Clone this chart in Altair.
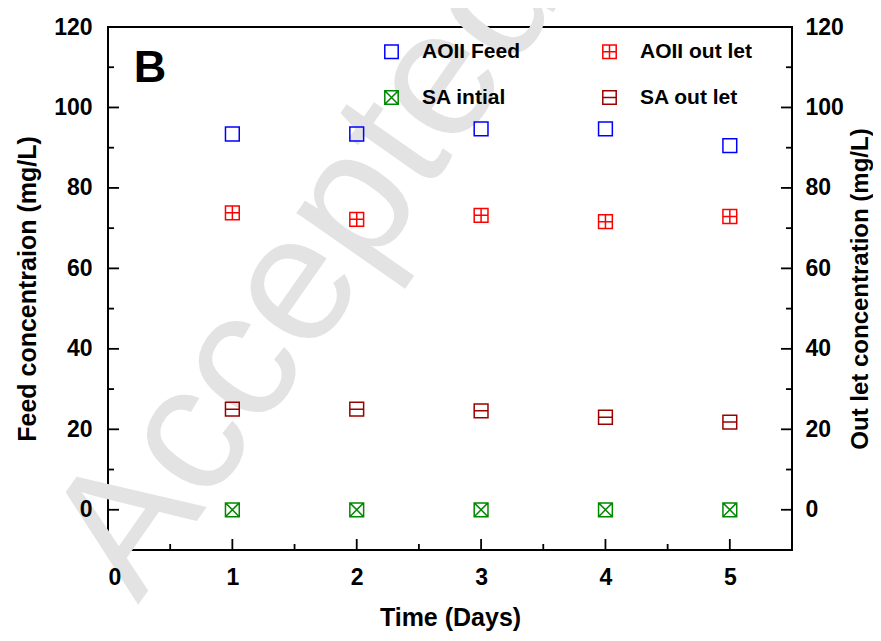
import altair as alt
import pandas as pd

# ---- data ----
days = [1, 2, 3, 4, 5]
aoii_feed = [93.4, 93.4, 94.7, 94.7, 90.5]
aoii_outlet = [73.8, 72.2, 73.2, 71.6, 72.9]
sa_initial = [0, 0, 0, 0, 0]
sa_outlet = [25.0, 25.0, 24.6, 23.0, 21.8]

# legend order (filled column by column: AOII Feed / SA intial, then AOII out let / SA out let)
series_names = ["AOII Feed", "SA intial", "AOII out let", "SA out let"]
series_colors = ["#0000ff", "#008800", "#ff0000", "#990000"]

x_tick_labels = [0, 1, 2, 3, 4, 5]
x_major = [1, 2, 3, 4, 5]
x_minor = [0.5, 1.5, 2.5, 3.5, 4.5]
y_tick_labels = [0, 20, 40, 60, 80, 100, 120]
y_major = [0, 20, 40, 60, 80, 100]
y_minor = [10, 30, 50, 70, 90, 110]

panel_label = ["B"]
watermark = ["Accepted Manuscript"]

# ---- build tables ----
rows = []
for name, vals in [("AOII Feed", aoii_feed), ("AOII out let", aoii_outlet),
                   ("SA intial", sa_initial), ("SA out let", sa_outlet)]:
    for d, v in zip(days, vals):
        rows.append({"day": d, "value": v, "series": name})
df = pd.DataFrame(rows)

sq = "M-1,-1H1V1H-1Z"
shape_of = {
    "AOII Feed": sq,
    "AOII out let": sq + "M0,-1V1M-1,0H1",
    "SA intial": sq + "M-1,-1L1,1M1,-1L-1,1",
    "SA out let": sq + "M-1,0H1",
}
shapes = [shape_of[n] for n in series_names]

W, H = 684, 523
xscale = alt.Scale(domain=[0, 5.5], nice=False, zero=False)
yscale = alt.Scale(domain=[-10, 120], nice=False, zero=False)

FONT = "Liberation Sans"

x_axis = alt.Axis(
    orient="bottom", values=x_tick_labels, format="d", labelFontSize=23,
    labelPadding=16, tickSize=0, title="Time (Days)", titleFontSize=25,
    titleX=W / 2, titleY=67, titleBaseline="middle", zindex=2)

legend = alt.Legend(
    title=None, orient="none", legendX=273, legendY=14, columns=2,
    columnPadding=78, rowPadding=24, labelFontSize=21, labelFont=FONT,
    labelFontWeight="bold", labelColor="black", symbolSize=180,
    symbolStrokeWidth=1.5, labelOffset=20, padding=0, labelLimit=300,
)

points = alt.Chart(df).mark_point(filled=False, size=190, strokeWidth=1.5, opacity=1).encode(
    x=alt.X("day:Q", scale=xscale, axis=x_axis),
    y=alt.Y("value:Q", scale=yscale, axis=alt.Axis(
        orient="left", values=y_tick_labels, format="d", labelFontSize=23,
        labelPadding=16, tickSize=0, title="Feed concentraion (mg/L)",
        titleFontSize=25, titleAngle=270, titleX=-81, titleY=H / 2,
        titleBaseline="middle", zindex=2)),
    color=alt.Color("series:N", scale=alt.Scale(domain=series_names, range=series_colors), legend=legend),
    shape=alt.Shape("series:N", scale=alt.Scale(domain=series_names, range=shapes), legend=legend),
)

tick_w = 1.8
xmaj = alt.Chart(pd.DataFrame({"day": x_major})).mark_rule(color="black", strokeWidth=tick_w).encode(
    x=alt.X("day:Q", scale=xscale, axis=x_axis), y=alt.value(H), y2=alt.value(H - 11))
xmin = alt.Chart(pd.DataFrame({"day": x_minor})).mark_rule(color="black", strokeWidth=tick_w).encode(
    x=alt.X("day:Q", scale=xscale, axis=x_axis), y=alt.value(H), y2=alt.value(H - 6))
ylmaj = alt.Chart(pd.DataFrame({"t": y_major})).mark_rule(color="black", strokeWidth=tick_w).encode(
    y=alt.Y("t:Q", scale=yscale, axis=None), x=alt.value(0), x2=alt.value(11))
ylmin = alt.Chart(pd.DataFrame({"t": y_minor})).mark_rule(color="black", strokeWidth=tick_w).encode(
    y=alt.Y("t:Q", scale=yscale, axis=None), x=alt.value(0), x2=alt.value(6))
yrmin = alt.Chart(pd.DataFrame({"t": y_minor})).mark_rule(color="black", strokeWidth=tick_w).encode(
    y=alt.Y("t:Q", scale=yscale, axis=None), x=alt.value(W), x2=alt.value(W - 6))
yrmaj = alt.Chart(pd.DataFrame({"t": y_major})).mark_rule(color="black", strokeWidth=tick_w).encode(
    y=alt.Y("t:Q", scale=yscale, axis=alt.Axis(
        orient="right", values=y_tick_labels, format="d", labelFontSize=23,
        labelPadding=13, tickSize=0, title="Out let concentration (mg/L)",
        titleFontSize=24, titleAngle=270, titleX=68, titleY=H / 2,
        titleBaseline="middle", zindex=2)),
    x=alt.value(W), x2=alt.value(W - 11))

wm = alt.Chart(pd.DataFrame({"t": watermark})).mark_text(
    angle=305, fontSize=180, font=FONT, color="#e3e3e3", align="left",
    baseline="alphabetic").encode(text="t:N", x=alt.value(30), y=alt.value(578))

blabel = alt.Chart(pd.DataFrame({"t": panel_label})).mark_text(
    fontSize=45, font=FONT, fontWeight="bold", color="black", align="center",
    baseline="middle").encode(text="t:N", x=alt.value(42), y=alt.value(41))

chart = alt.layer(wm, xmaj, xmin, ylmaj, ylmin, yrmin, points, blabel, yrmaj).resolve_axis(
    y="independent"
).properties(
    width=W, height=H,
    autosize=alt.AutoSizeParams(type="none"),
    padding={"left": 100, "top": 19, "right": 81, "bottom": 83},
).configure_view(
    stroke="black", strokeWidth=2
).configure_axis(
    labelFont=FONT, labelFontWeight="bold", labelColor="black",
    titleFont=FONT, titleFontWeight="bold", titleColor="black",
    grid=False, domain=False, ticks=False,
)

chart.save("out.html", embed_options={"renderer": "svg", "actions": False})
